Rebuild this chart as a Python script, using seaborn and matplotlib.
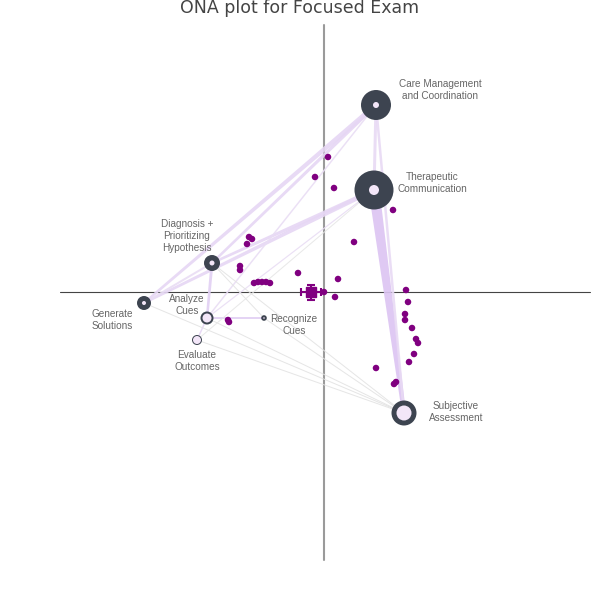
import numpy as np
import pandas as pd
import matplotlib
matplotlib.use("Agg")
import matplotlib.pyplot as plt
import seaborn as sns

# ---- data (ONA space units) ----
node_names = ["Care Management\nand Coordination", "Therapeutic\nCommunication",
              "Diagnosis +\nPrioritizing\nHypothesis", "Generate\nSolutions",
              "Analyze\nCues", "Recognize\nCues", "Evaluate\nOutcomes",
              "Subjective\nAssessment"]
node_x = [0.52, 0.50, -1.12, -1.80, -1.17, -0.60, -1.27, 0.80]
node_y = [1.87, 1.02, 0.29, -0.11, -0.26, -0.26, -0.48, -1.21]
node_outer = [15, 19.5, 8, 7, 6.5, 2.8, 5, 12.5]   # px radius
node_inner = [3, 5, 2.5, 2, 4.5, 0.8, 4, 7.5]
label_dx = [0.64, 0.58, -0.25, -0.32, -0.20, 0.30, 0.0, 0.52]
label_dy = [0.15, 0.07, 0.27, -0.17, 0.13, -0.07, -0.21, 0.01]

edge_from = [1, 0, 0, 1, 1, 0, 0, 2, 4, 4, 0, 1, 3, 2, 4, 5, 6, 2, 3, 1]
edge_to   = [7, 3, 2, 3, 2, 1, 7, 4, 5, 6, 4, 4, 7, 7, 7, 7, 7, 5, 2, 6]
edge_w0   = [11, 5, 3.5, 4.5, 4, 3, 2.5, 3, 2.2, 1.5, 1.5, 1.2, 1, 1, 1, 1, 1, 1, 2, 1]
edge_w1   = [4, 2.5, 2.5, 2.5, 2.5, 3, 2.5, 2.5, 2.2, 1.5, 1.5, 1.2, 1, 1, 1, 1, 1, 1, 2, 1]
edge_col  = ["#dcc4f2", "#e6d6f4", "#e6d6f4", "#e6d6f4", "#e6d6f4", "#e8daf4",
             "#e8daf4", "#e2d0f3", "#e2d0f3", "#e6d6f4", "#e9ddf4", "#e9ddf4",
             "#e3e3e3", "#e3e3e3", "#e3e3e3", "#e3e3e3", "#e3e3e3", "#e3e3e3",
             "#e9ddf4", "#e6e6e6"]

pt_x = [0.04, -0.09, 0.10, 0.69, 0.30, -0.75, -0.72, -0.77, -0.84, -0.84, -0.26,
        0.14, -0.70, -0.66, -0.62, -0.58, -0.54, 0.82, 0.84, 0.11, 0.81, 0.81,
        0.88, 0.92, 0.94, 0.90, 0.85, -0.96, -0.95, 0.52, 0.70, 0.72, 0.00]
pt_y = [1.35, 1.15, 1.04, 0.82, 0.50, 0.55, 0.53, 0.48, 0.26, 0.22, 0.19,
        0.13, 0.09, 0.10, 0.10, 0.10, 0.09, 0.02, -0.10, -0.05, -0.22, -0.28,
        -0.36, -0.47, -0.51, -0.62, -0.70, -0.28, -0.30, -0.76, -0.92, -0.90, 0.00]
mean_x, mean_y = -0.13, 0.00
mean_err_x, mean_err_y = 0.10, 0.075

title = "ONA plot for Focused Exam"

# ---- figure ----
sns.set_style("white")
fig = plt.figure(figsize=(6, 6), dpi=100)
ax = fig.add_axes([0, 0, 1, 1])
ax.set_xlim(-3.24, 2.76)
ax.set_ylim(-3.08, 2.92)
ax.set_aspect("equal")
ax.axis("off")
PX = 0.01  # data units per pixel

# axes lines
ax.plot([0, 0], [2.67, -2.68], color="#9a9a9a", lw=1.5, zorder=1)
ax.plot([-2.64, 2.66], [0, 0], color="#444444", lw=0.8, zorder=1)

# edges as tapered polygons
for a, b, w0, w1, c in zip(edge_from, edge_to, edge_w0, edge_w1, edge_col):
    p0 = np.array([node_x[a], node_y[a]])
    p1 = np.array([node_x[b], node_y[b]])
    d = p1 - p0
    n = np.array([-d[1], d[0]]) / np.hypot(*d)
    h0, h1 = w0 / 2 * PX, w1 / 2 * PX
    poly = np.array([p0 + n * h0, p1 + n * h1, p1 - n * h1, p0 - n * h0])
    ax.fill(poly[:, 0], poly[:, 1], color=c, alpha=0.9, lw=0, zorder=2)

# points
df = pd.DataFrame({"x": pt_x, "y": pt_y})
sns.scatterplot(data=df, x="x", y="y", color="#800080", s=22, edgecolor="none",
                ax=ax, zorder=4, legend=False)

# mean with error bars
ax.errorbar([mean_x], [mean_y], xerr=[mean_err_x], yerr=[mean_err_y], fmt="s",
            color="#800080", ms=7, elinewidth=1.5, capsize=3, capthick=1.5, zorder=5)

# nodes
for x, y, ro, ri in zip(node_x, node_y, node_outer, node_inner):
    ax.add_patch(plt.Circle((x, y), ro * PX, color="#3d4450", zorder=6, lw=0))
    ax.add_patch(plt.Circle((x, y), ri * PX, color="#f3e6f8", zorder=7, lw=0))

# labels
for name, x, y, dx, dy in zip(node_names, node_x, node_y, label_dx, label_dy):
    ax.text(x + dx, y + dy, name, ha="center", va="center", fontsize=7.2,
            color="#666666", family="Liberation Sans", linespacing=1.3, zorder=8)

fig.text(0.5, 0.987, title, ha="center", va="center", fontsize=12.5,
         color="#444444", family="DejaVu Sans")

fig.savefig("out.png", dpi=100)
